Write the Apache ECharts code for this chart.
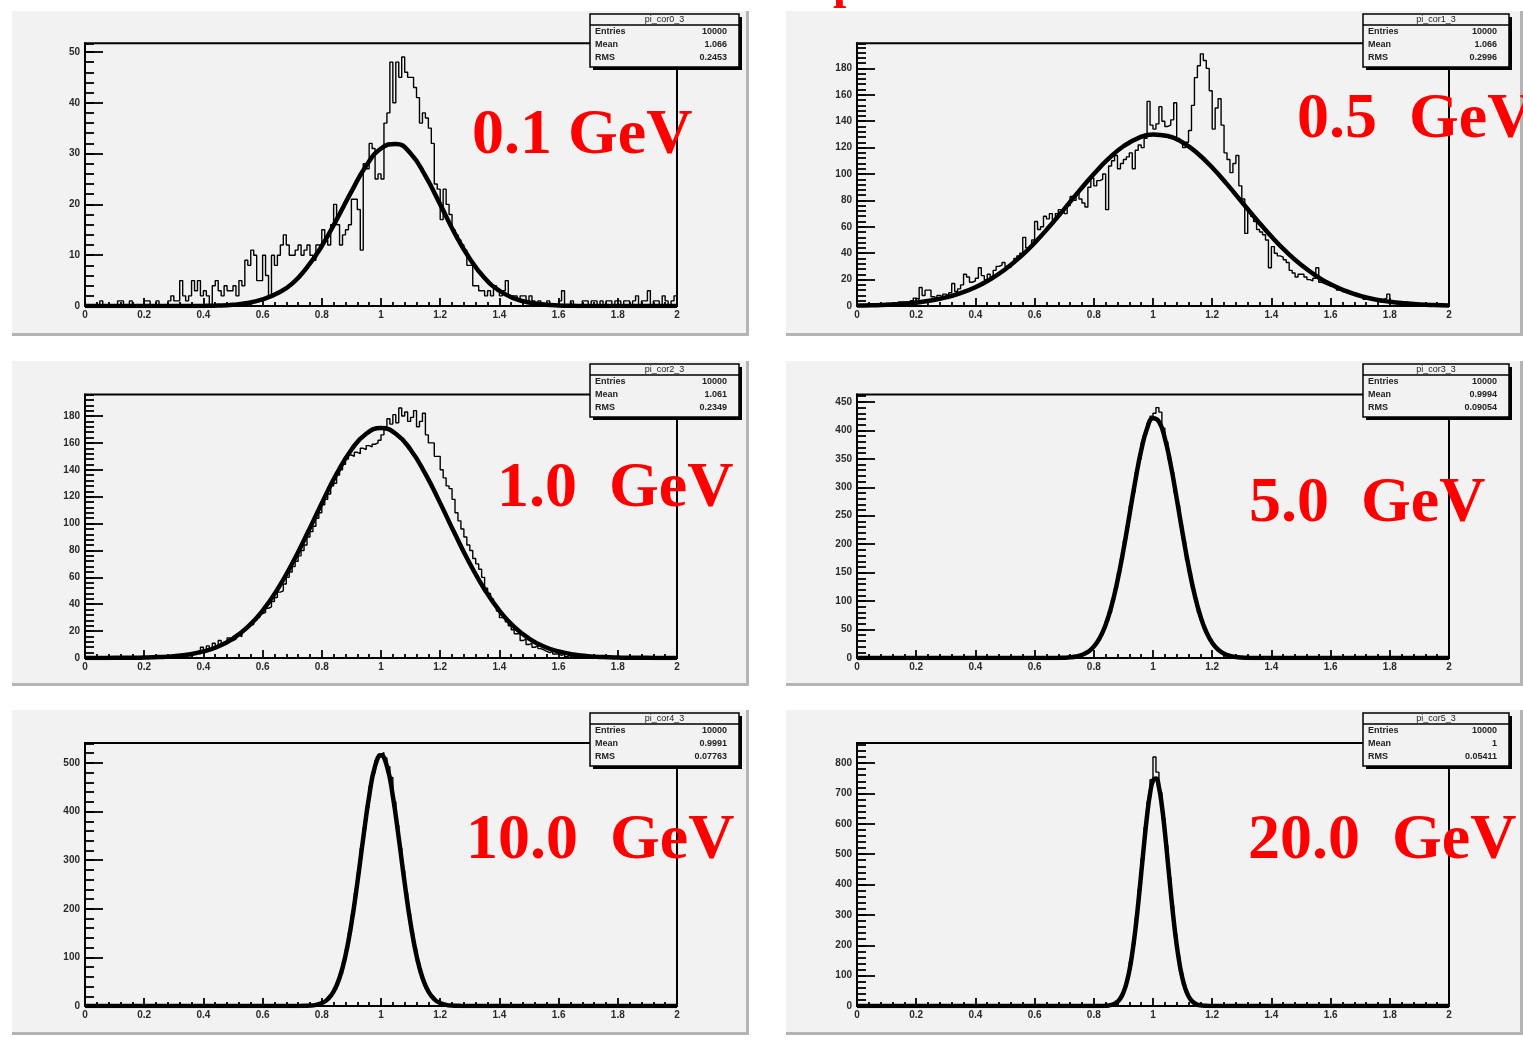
<!DOCTYPE html>
<html>
<head>
<meta charset="UTF-8">
<title>pi_cor</title>
<script src="https://cdn.jsdelivr.net/npm/echarts@6/dist/echarts.min.js"></script>
<style>
html,body{margin:0;padding:0;background:#fff;}
#main{width:1523px;height:1044px;}
</style>
</head>
<body>
<div id="main"></div>
<script>
// histogram contents, bins 0.01 wide, first bin index in histFrom
var h1 = [0,0,0,0,0,1,0,0,0,0, 0,1,1,0,0,1,0,0,0,0, 1,1,0,0,1,0,0,0,1,2, 1,1,5,2,1,2,5,3,5,2,
  3,2,0,4,5,3,2,4,3,3, 4,2,5,4,9,8,11,10,5,5, 10,6,2,10,8,10,12,14,12,10, 10,11,12,10,11,12,10,9,12,12,
  15,13,12,16,20,16,12,14,15,16, 21,21,19,11,28,27,32,31,25,26, 25,36,38,48,40,48,45,49,46,45, 45,43,41,36,38,37,35,32,24,23,
  17,23,20,18,15,14,13,12,11,8, 8,4,4,3,3,2,3,2,4,3, 2,3,5,2,2,2,1,2,2,1, 2,1,0,1,0,0,1,0,0,0,
  1,3,0,0,1,0,0,0,1,1, 0,1,1,0,1,0,1,1,0,1, 1,0,1,1,0,1,2,0,1,1, 3,0,1,1,0,2,1,0,1,2];
var h2 = [0,1,0,1,0,1,1,0,1,2, 2,1,2,1,3,3,3,2,4,6, 5,14,8,12,12,7,6,8,7,9, 8,10,17,11,13,16,24,22,18,19,
  21,29,23,20,24,22,27,30,31,33, 30,29,32,36,38,40,52,44,45,50, 64,58,60,68,66,70,65,70,73,72, 70,76,83,80,86,81,78,75,90,97,
  91,95,96,100,73,106,110,114,104,108, 111,113,116,104,118,122,120,127,155,137, 134,138,151,140,136,137,141,154,127,124, 120,124,133,152,173,182,191,186,180,163,
  134,150,157,137,116,111,101,108,114,91, 81,55,72,68,64,58,56,54,50,29, 45,40,38,37,35,33,27,25,22,24, 24,22,20,19,21,29,18,17,16,15,
  15,14,12,13,11,12,10,9,8,7, 7,5,6,5,4,4,3,5,6,9, 4,3,2,3,2,3,2,1,2,2, 1,2,1,1,0,1,0,1,1,0];
var h3 = [0,0,0,0,0,0,0,0,0,0, 0,0,0,0,0,0,0,0,0,0, 0,0,0,1,0,0,1,0,1,1, 1,2,1,2,3,2,3,4,3,8,
  6,9,7,11,9,13,10,12,15,13, 14,17,16,20,22,24,25,28,30,33, 34,37,38,42,45,49,50,55,60,64, 68,72,76,80,84,90,94,98,104,108,
  114,118,122,128,130,136,140,144,148,151, 150,153,152,156,155,158,157,159,160,162, 166,170,178,174,181,175,186,180,183,176, 179,184,172,176,182,166,160,160,150,150,
  140,134,128,126,118,108,102,96,90,84, 80,74,70,66,60,52,48,44,40,35, 30,31,27,24,21,18,18,13,14,10, 11,8,9,7,6,5,4,5,3,3,
  2,3,1,2,1,1,1,0,1,0, 0,1,0,0,0,0,1,0,0,0, 0,0,0,0,0,0,0,0,0,0, 0,0,0,0,0,0,0,0,0,0];
var h4 = [0,0,0,0,1,0,0,1,0,0, 0,1,1,2,3,4,6,9,12,17, 22,30,40,52,66,80,103,122,150,174, 206,232,268,292,326,350,378,394,412,425,
  430,440,432,404,380,350,326,292,268,232, 206,172,150,122,104,80,66,52,40,31, 23,18,12,9,7,5,3,2,2,1, 1,0,0,1,0,0,0,0,0,0];
var h5 = [0,0,1,0,1,1,2,2,3,5, 7,12,16,25,34,50,66,92,116,152, 188,232,274,324,366,410,452,480,505,518,
  521,510,492,470,420,372,325,278,232,190, 150,118,90,67,50,35,24,17,11,7, 5,3,2,1,1,0,1,0,0,0];
var h6 = [0,0,0,0,1, 0,1,0,1,2,3,5,10,18,33, 58,92,145,206,290,385,484,588,672,745,
  820,770,702,618,528,424,330,238,166,112, 70,43,25,13,7,3,2,1,0,1, 0,0,0,0,0];
var histFrom = [0, 0, 0, 60, 70, 75];

var f1 = [0,0,0,0,0,0,0,0,0.02,0.08,0.25,0.6,1.3,2.5,4.4,7.6,11.8,17.0,22.5,27.6,31.0,31.9,30.0,25.6,20.0,14.2,9.3,5.5,3.0,1.5,0.7,0.3,0.1,0.03,0,0,0,0,0,0,0];
var f2 = [0.3,0.5,1.0,1.6,2.6,4.2,6.5,9.8,14.2,20.2,27.7,36.9,47.8,60.2,73.4,87,100,111.6,121,127.2,130,128.8,123.9,115.7,104.9,92.3,78.8,65.4,52.6,41.1,31.2,23,16.4,11.4,7.7,5,3.2,2,1.2,0.7,0.4];
var f3 = [0,0,0.1,0.1,0.3,0.7,1.4,2.6,4.9,8.6,14.5,23.1,35.2,51.0,70.3,92.2,115.2,136.9,154.9,166.8,171,166.8,154.9,136.9,115.2,92.2,70.3,51.0,35.2,23.1,14.5,8.6,4.9,2.6,1.4,0.7,0.3,0.1,0.1,0,0];
var f4 = [0,0,0,0.1,0.2,0.5,1.2,2.6,5.4,10.7,20.0,35.2,58.5,91.7,135.7,189.6,249.8,310.6,364.4,403.3,421.2,415.2,386.1,338.8,280.6,219.2,161.6,112.4,73.8,45.7,26.7,14.8,7.7,3.8,1.8,0.8,0.3,0.1,0,0,0];
var f5 = [0,0,0,0,0,0,0.1,0.3,0.8,2.4,6.0,13.9,29.8,58.1,103.6,169.4,252.9,345.5,431.7,493.5,516,493.5,431.7,345.5,252.9,169.4,103.6,58.1,29.8,13.9,6.0,2.4,0.8,0.3,0.1,0,0,0,0,0,0];
var f6 = [0,0.1,0.1,0.3,0.8,1.7,3.6,7.3,14.0,25.5,44.4,73.5,115.8,173.7,248,336.7,435,535,627.3,699.3,742,749.3,720.3,659,574,475.2,375,281.6,201.4,137,88.7,54.7,32.1,17.9,9.5,4.8,2.3,1.1,0.5,0.2,0.1];
var fitFrom = [0, 0, 0, 0.6, 0.6, 0.8];
var fitStep = [0.05, 0.05, 0.05, 0.02, 0.02, 0.01];

var labels = ['0.1 GeV', '0.5  GeV', '1.0  GeV', '5.0  GeV', '10.0  GeV', '20.0  GeV'];
var histNames = ['pi_cor0_3', 'pi_cor1_3', 'pi_cor2_3', 'pi_cor3_3', 'pi_cor4_3', 'pi_cor5_3'];
var entries = ['10000', '10000', '10000', '10000', '10000', '10000'];
var means = ['1.066', '1.066', '1.061', '0.9994', '0.9991', '1'];
var rmss = ['0.2453', '0.2996', '0.2349', '0.09054', '0.07763', '0.05411'];
var yMax = [51.7, 199, 196, 463, 541, 866];
var yStep = [10, 20, 20, 50, 100, 100];
var yMinor = [2, 4, 4, 10, 20, 20];

// layout
var padX = [12, 786], padY = [11, 361, 710], padW = 737, padH = 325;
var plotX = [85, 857], plotW = 592;
var plotY = [43.3, 394.5, 743], plotH = [262.7, 263.5, 263];
var boxX = [590, 1363], boxW = [149, 146], boxY = [14, 364, 713], boxH = 53;
var labelPos = [[472, 158], [1297, 142], [497, 511], [1249, 526], [466, 863], [1248, 863]];

function histData(arr, from) {
  var d = [];
  for (var i = 0; i < 200; i++) {
    var j = i - from;
    d.push([i / 100, (j >= 0 && j < arr.length) ? arr[j] : 0]);
  }
  d.push([2, d[199][1]]);
  return d;
}
function fitData(arr, x0, dx) {
  var d = [];
  if (x0 > 0) d.push([0, 0]);
  for (var i = 0; i < arr.length; i++) d.push([+(x0 + i * dx).toFixed(3), arr[i]]);
  if (d[d.length - 1][0] < 2) d.push([2, 0]);
  return d;
}

var hists = [h1, h2, h3, h4, h5, h6];
var fits = [f1, f2, f3, f4, f5, f6];
var tickFont = {fontSize: 10, fontWeight: 'bold', color: '#2a2a2a', fontFamily: 'Liberation Sans'};
var grids = [], xAxes = [], yAxes = [], series = [], gfx = [];

for (var k = 0; k < 6; k++) {
  var r = Math.floor(k / 2), c = k % 2;
  grids.push({left: plotX[c], top: plotY[r], width: plotW, height: plotH[r], show: true,
    borderColor: '#000', borderWidth: 2, backgroundColor: 'transparent', containLabel: false, outerBoundsMode: 'none'});
  xAxes.push({gridIndex: k, type: 'value', min: 0, max: 2, interval: 0.2,
    axisLine: {onZero: false, lineStyle: {color: '#000', width: 2}},
    axisTick: {inside: true, length: 8, lineStyle: {color: '#000', width: 1.8}},
    minorTick: {show: true, splitNumber: 5, length: 4, lineStyle: {color: '#000', width: 1.8}},
    splitLine: {show: false}, minorSplitLine: {show: false},
    axisLabel: Object.assign({margin: 4}, tickFont)});
  yAxes.push({gridIndex: k, type: 'value', position: 'left', min: 0, max: yMax[k], interval: yStep[k],
    axisLine: {show: true, onZero: false, lineStyle: {color: '#000', width: 2}},
    axisTick: {show: true, inside: true, length: 18, lineStyle: {color: '#000', width: 1.8}},
    splitLine: {show: false},
    axisLabel: Object.assign({margin: 5, showMaxLabel: false}, tickFont)});
  yAxes.push({gridIndex: k, type: 'value', position: 'left', offset: 0, min: 0, max: yMax[k], interval: yMinor[k],
    axisLine: {show: false}, splitLine: {show: false}, axisLabel: {show: false},
    axisTick: {show: true, inside: true, length: 9, lineStyle: {color: '#000', width: 1.8}}});
  series.push({type: 'line', xAxisIndex: k, yAxisIndex: 2 * k, step: 'end', symbol: 'none', silent: true, z: 3,
    data: histData(hists[k], histFrom[k]), lineStyle: {color: '#000', width: 1.4}});
  series.push({type: 'line', xAxisIndex: k, yAxisIndex: 2 * k, smooth: true, symbol: 'none', silent: true, z: 4,
    data: fitData(fits[k], fitFrom[k], fitStep[k]), lineStyle: {color: '#000', width: 4.5}});

  // pad background with ROOT style bevel
  gfx.push({type: 'rect', z: -10, silent: true, shape: {x: padX[c], y: padY[r], width: padW, height: padH}, style: {fill: '#f2f2f2'}});
  gfx.push({type: 'rect', z: -9, silent: true, shape: {x: padX[c], y: padY[r] + padH - 3, width: padW, height: 3}, style: {fill: '#b4b4b4'}});
  gfx.push({type: 'rect', z: -9, silent: true, shape: {x: padX[c] + padW - 3, y: padY[r], width: 3, height: padH}, style: {fill: '#b4b4b4'}});

  // stat box
  var bx = boxX[c], by = boxY[r], bw = boxW[c];
  gfx.push({type: 'rect', z: 50, silent: true, shape: {x: bx + 3, y: by + 3, width: bw, height: boxH}, style: {fill: '#000'}});
  gfx.push({type: 'rect', z: 51, silent: true, shape: {x: bx, y: by, width: bw, height: boxH}, style: {fill: '#f2f2f2', stroke: '#000', lineWidth: 1.5}});
  gfx.push({type: 'line', z: 52, silent: true, shape: {x1: bx, y1: by + 11, x2: bx + bw, y2: by + 11}, style: {stroke: '#000', lineWidth: 1.5}});
  gfx.push({type: 'text', z: 53, silent: true, style: {text: histNames[k], x: bx + bw / 2, y: by + 5.5, align: 'center', verticalAlign: 'middle',
    fontSize: 9, fontFamily: 'Liberation Sans', fill: '#222'}});
  var rows = [['Entries', entries[k]], ['Mean', means[k]], ['RMS', rmss[k]]];
  for (var q = 0; q < 3; q++) {
    gfx.push({type: 'text', z: 53, silent: true, style: {text: rows[q][0], x: bx + 5, y: by + 18 + q * 13, verticalAlign: 'middle',
      fontSize: 9, fontWeight: 'bold', fontFamily: 'Liberation Sans', fill: '#222'}});
    gfx.push({type: 'text', z: 53, silent: true, style: {text: rows[q][1], x: bx + bw - 12, y: by + 18 + q * 13, align: 'right', verticalAlign: 'middle',
      fontSize: 9, fontWeight: 'bold', fontFamily: 'Liberation Sans', fill: '#222'}});
  }

  // energy label
  gfx.push({type: 'text', z: 60, silent: true, style: {text: labels[k], x: labelPos[k][0], y: labelPos[k][1] - 21.6, verticalAlign: 'middle',
    fontSize: 64, fontWeight: 'bold', fontFamily: 'Liberation Serif', fill: '#ff0000'}});
}

// cut-off title above the pads
gfx.push({type: 'text', z: 60, silent: true, style: {text: 'p', x: 833, y: 2 - 16.2, verticalAlign: 'middle',
  fontSize: 48, fontWeight: 'bold', fontFamily: 'Liberation Serif', fill: '#ff0000'}});

var chart = echarts.init(document.getElementById('main'));
chart.setOption({
  animation: false,
  backgroundColor: '#ffffff',
  grid: grids,
  xAxis: xAxes,
  yAxis: yAxes,
  series: series,
  graphic: {elements: gfx}
});
</script>
</body>
</html>
